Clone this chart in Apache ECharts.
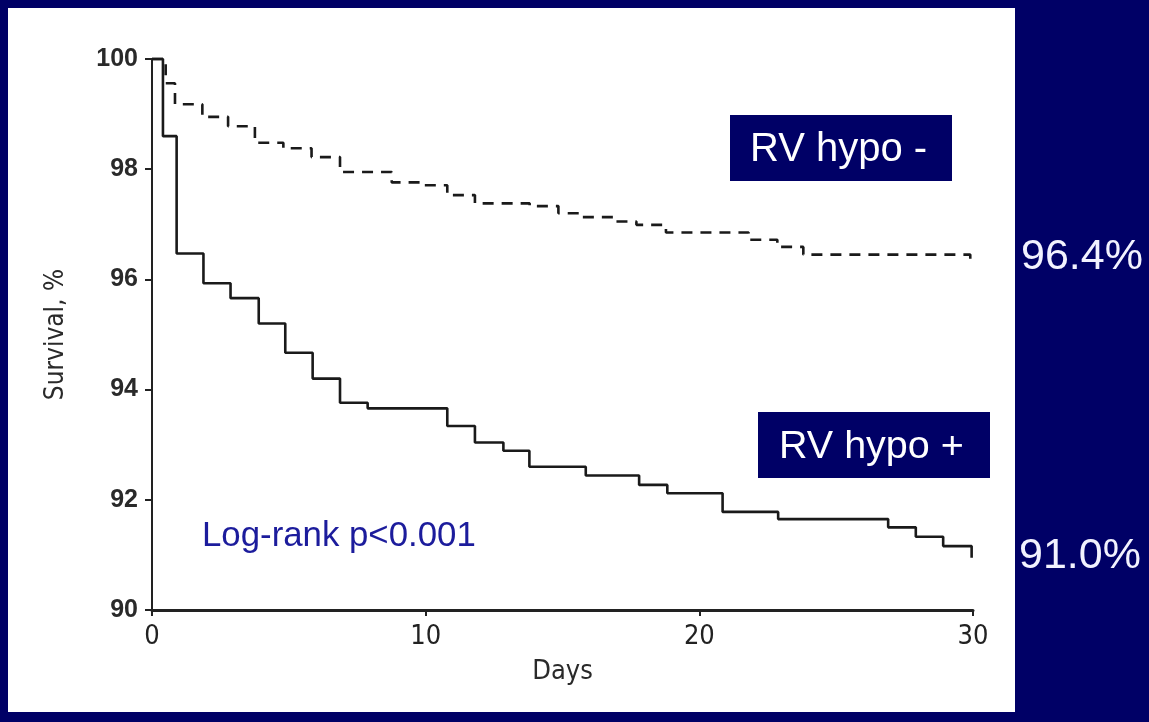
<!DOCTYPE html>
<html>
<head>
<meta charset="utf-8">
<script src="https://cdn.jsdelivr.net/npm/echarts@6/dist/echarts.min.js"></script>
<style>
  html, body { margin: 0; padding: 0; width: 1149px; height: 722px; background: #000066; overflow: hidden; }
  #panel { position: absolute; left: 8px; top: 8px; width: 1007px; height: 704px; background: #ffffff; }
  #chart { position: absolute; left: 0; top: 0; width: 1149px; height: 722px; }
</style>
</head>
<body>
<div id="panel"></div>
<div id="chart"></div>
<script>
// Kaplan-Meier steps: (day, survival %) after each event
const hypoPosDays = [0, 0.40, 0.90, 1.88, 2.87, 3.90, 4.87, 5.87, 6.87, 7.88, 10.79, 11.80, 12.84, 13.79, 15.85, 17.80, 18.83, 20.85, 22.88, 26.90, 27.91, 28.91, 29.95];
const hypoPosSurv = [100, 98.60, 96.47, 95.93, 95.66, 95.20, 94.67, 94.20, 93.76, 93.66, 93.34, 93.04, 92.89, 92.60, 92.44, 92.27, 92.12, 91.78, 91.65, 91.50, 91.33, 91.16, 90.95];

const hypoNegDays = [0, 0.50, 0.84, 1.84, 2.78, 3.76, 4.80, 5.83, 6.87, 8.76, 9.80, 10.79, 11.80, 13.80, 14.85, 15.70, 16.90, 17.70, 18.78, 21.80, 22.85, 23.80, 29.90];
const hypoNegSurv = [100, 99.56, 99.18, 98.95, 98.78, 98.48, 98.38, 98.22, 97.95, 97.76, 97.71, 97.53, 97.38, 97.33, 97.20, 97.13, 97.05, 96.99, 96.85, 96.72, 96.59, 96.45, 96.35];

const xTicks = [0, 10, 20, 30];
const yTicks = [90, 92, 94, 96, 98, 100];
const groupLabels = ['RV hypo -', 'RV hypo +'];
const finalLabels = ['96.4%', '91.0%'];
const testLabel = 'Log-rank p<0.001';

const pairs = (xs, ys) => xs.map((x, i) => [x, ys[i]]);

const narrow = "'Liberation Sans Narrow', 'DejaVu Sans Condensed', 'Liberation Sans', sans-serif";
const arial = "'Liberation Sans', Arial, sans-serif";

const chart = echarts.init(document.getElementById('chart'), null, { renderer: 'canvas' });
chart.setOption({
  backgroundColor: 'transparent',
  animation: false,
  grid: { left: 152, right: 176, top: 59, bottom: 112, containLabel: false },
  xAxis: {
    type: 'value', min: 0, max: 30, interval: 10,
    name: 'Days', nameLocation: 'middle', nameGap: 48,
    nameTextStyle: { fontFamily: narrow, fontSize: 27, color: '#2a2a2a' },
    axisLine: { show: true, lineStyle: { color: '#222', width: 3 } },
    axisTick: { show: true, length: 6, lineStyle: { color: '#222', width: 2 } },
    axisLabel: { margin: 13, fontFamily: narrow, fontSize: 27, color: '#222',
      formatter: v => xTicks.includes(v) ? String(v) : '' },
    splitLine: { show: false }
  },
  yAxis: {
    type: 'value', min: 90, max: 100, interval: 2,
    name: 'Survival, %', nameLocation: 'middle', nameGap: 83, nameRotate: 90,
    nameTextStyle: { fontFamily: narrow, fontSize: 26, color: '#2a2a2a' },
    axisLine: { show: true, lineStyle: { color: '#222', width: 2 } },
    axisTick: { show: true, length: 7, lineStyle: { color: '#222', width: 2 } },
    axisLabel: { margin: 14, fontFamily: arial, fontWeight: 'bold', fontSize: 25, color: '#2a2a2a',
      formatter: v => yTicks.includes(v) ? String(v) : '' },
    splitLine: { show: false }
  },
  series: [
    {
      name: groupLabels[0], type: 'line', step: 'end', symbol: 'none', clip: false,
      data: pairs(hypoNegDays, hypoNegSurv),
      lineStyle: { color: '#1a1a1a', width: 2.6, type: [11, 8] }
    },
    {
      name: groupLabels[1], type: 'line', step: 'end', symbol: 'none', clip: false,
      data: pairs(hypoPosDays, hypoPosSurv),
      lineStyle: { color: '#1a1a1a', width: 2.6 }
    }
  ],
  graphic: [
    { type: 'rect', shape: { x: 730, y: 115, width: 222, height: 66 }, style: { fill: '#000066' } },
    { type: 'text', x: 750, y: 150, style: { text: groupLabels[0], fill: '#ffffff', font: '40px ' + arial, textVerticalAlign: 'middle', textAlign: 'left' } },
    { type: 'rect', shape: { x: 758, y: 412, width: 232, height: 66 }, style: { fill: '#000066' } },
    { type: 'text', x: 779, y: 447, style: { text: groupLabels[1], fill: '#ffffff', font: '39.5px ' + arial, textVerticalAlign: 'middle', textAlign: 'left' } },
    { type: 'text', x: 202, y: 536, style: { text: testLabel, fill: '#1c1c9c', font: '34.8px ' + arial, textVerticalAlign: 'middle', textAlign: 'left' } },
    { type: 'text', x: 1021, y: 257, style: { text: finalLabels[0], fill: '#f2f2ff', font: '43px ' + arial, textVerticalAlign: 'middle', textAlign: 'left' } },
    { type: 'text', x: 1019, y: 556, style: { text: finalLabels[1], fill: '#f2f2ff', font: '43px ' + arial, textVerticalAlign: 'middle', textAlign: 'left' } }
  ]
});
</script>
</body>
</html>
